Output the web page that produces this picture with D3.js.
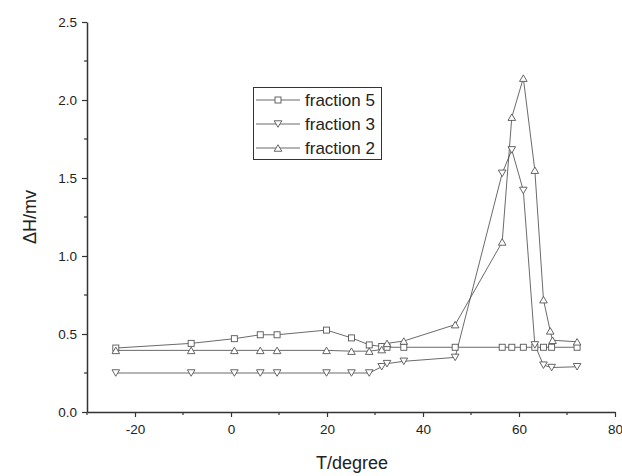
<!DOCTYPE html>
<html>
<head>
<meta charset="utf-8">
<script src="https://cdn.jsdelivr.net/npm/d3@7"></script>
<style>
  body { margin: 0; background: #fff; }
  svg text { font-family: "Liberation Sans", Arial, sans-serif; fill: #222; }
</style>
</head>
<body>
<svg id="chart" width="622" height="476"></svg>
<script>
// data
var t5 = [-24, -8.3, 0.7, 6.1, 9.6, 19.9, 25.1, 28.8, 31.4, 32.5, 36, 46.7, 56.5, 58.5, 60.9, 63.3, 65.1, 66.8, 72.1];
var v5 = [0.41, 0.44, 0.47, 0.495, 0.495, 0.525, 0.475, 0.43, 0.42, 0.415, 0.415, 0.415, 0.415, 0.415, 0.415, 0.415, 0.415, 0.415, 0.415];

var t3 = [-24, -8.3, 0.7, 6.1, 9.6, 19.9, 25.1, 28.8, 31.4, 32.5, 36, 46.7, 56.5, 58.5, 60.9, 63.3, 65.1, 66.8, 72.1];
var v3 = [0.25, 0.25, 0.25, 0.25, 0.25, 0.25, 0.25, 0.25, 0.29, 0.31, 0.325, 0.35, 1.53, 1.68, 1.42, 0.43, 0.30, 0.285, 0.29];

var t2 = [-24, -8.3, 0.7, 6.1, 9.6, 19.9, 25.1, 28.8, 31.4, 32.5, 36, 46.7, 56.5, 58.5, 60.9, 63.3, 65.1, 66.5, 67, 72.1];
var v2 = [0.395, 0.395, 0.395, 0.395, 0.395, 0.395, 0.39, 0.39, 0.40, 0.44, 0.455, 0.56, 1.09, 1.89, 2.14, 1.55, 0.72, 0.52, 0.46, 0.45];

var seriesNames = ["fraction 5", "fraction 3", "fraction 2"];
var xTicks = [-20, 0, 20, 40, 60, 80];
var yTicks = [0.0, 0.5, 1.0, 1.5, 2.0, 2.5];

var svg = d3.select("#chart");
var ink = "#333";

var x = d3.scaleLinear().domain([-30, 80]).range([87, 615]);
var y = d3.scaleLinear().domain([0, 2.5]).range([412, 22]);

// minor ticks
var xMinor = d3.range(-30, 81, 10).filter(function(d) { return xTicks.indexOf(d) < 0; });
var yMinor = d3.range(0.25, 2.5, 0.5);

svg.append("g").selectAll("line").data(xMinor).enter().append("line")
    .attr("x1", function(d) { return x(d); }).attr("x2", function(d) { return x(d); })
    .attr("y1", 412).attr("y2", 415)
    .attr("stroke", ink).attr("stroke-width", 1.2);
svg.append("g").selectAll("line").data(yMinor).enter().append("line")
    .attr("y1", function(d) { return y(d); }).attr("y2", function(d) { return y(d); })
    .attr("x1", 87).attr("x2", 84)
    .attr("stroke", ink).attr("stroke-width", 1.2);

var xAxis = svg.append("g")
    .attr("transform", "translate(0,412)")
    .call(d3.axisBottom(x).tickValues(xTicks).tickSize(5).tickSizeOuter(0).tickPadding(7)
        .tickFormat(function(d) { return String(d); }));
var yAxis = svg.append("g")
    .attr("transform", "translate(87,0)")
    .call(d3.axisLeft(y).tickValues(yTicks).tickSize(5).tickSizeOuter(0).tickPadding(5)
        .tickFormat(d3.format(".1f")));

[xAxis, yAxis].forEach(function(a) {
    a.select(".domain").attr("stroke", ink).attr("stroke-width", 1.5);
    a.selectAll(".tick line").attr("stroke", ink).attr("stroke-width", 1.2);
    a.selectAll(".tick text").attr("font-size", 13.5).attr("fill", "#222")
        .style("font-family", "Liberation Sans, Arial, sans-serif");
});

// axis titles
svg.append("text").attr("x", 352).attr("y", 469)
    .attr("text-anchor", "middle").attr("font-size", 18).text("T/degree");
svg.append("text")
    .attr("transform", "translate(36,217) rotate(-90)")
    .attr("text-anchor", "middle").attr("font-size", 18).text("\u0394H/mv");

// markers
var lineColor = "#444";
var markColor = "#555";
function drawMarker(g, kind, cx, cy) {
    if (kind == "square") {
        g.append("rect").attr("x", cx - 3).attr("y", cy - 3).attr("width", 6).attr("height", 6)
            .attr("fill", "#fff").attr("stroke", markColor).attr("stroke-width", 0.9);
    } else {
        var h = 6.5, w = 3.8;
        var pts = kind == "down"
            ? [[cx - w, cy - h / 2], [cx + w, cy - h / 2], [cx, cy + h / 2]]
            : [[cx - w, cy + h / 2], [cx + w, cy + h / 2], [cx, cy - h / 2]];
        g.append("polygon").attr("points", pts.map(function(p) { return p.join(","); }).join(" "))
            .attr("fill", "#fff").attr("stroke", markColor).attr("stroke-width", 0.9);
    }
}

var series = [
    {name: seriesNames[0], t: t5, v: v5, kind: "square"},
    {name: seriesNames[1], t: t3, v: v3, kind: "down"},
    {name: seriesNames[2], t: t2, v: v2, kind: "up"}
];

var line = d3.line().x(function(d) { return x(d[0]); }).y(function(d) { return y(d[1]); });

series.forEach(function(s) {
    var pts = s.t.map(function(t, i) { return [t, s.v[i]]; });
    svg.append("path").attr("d", line(pts))
        .attr("fill", "none").attr("stroke", lineColor).attr("stroke-width", 0.8);
});
series.forEach(function(s) {
    var g = svg.append("g");
    s.t.forEach(function(t, i) { drawMarker(g, s.kind, x(t), y(s.v[i])); });
});

// legend
var lg = svg.append("g");
lg.append("rect").attr("x", 253.5).attr("y", 87.5).attr("width", 128).attr("height", 72)
    .attr("fill", "#fff").attr("stroke", ink).attr("stroke-width", 1);
series.forEach(function(s, i) {
    var ly = 100 + i * 24;
    lg.append("line").attr("x1", 256).attr("x2", 300).attr("y1", ly).attr("y2", ly)
        .attr("stroke", lineColor).attr("stroke-width", 0.8);
    drawMarker(lg, s.kind, 278, ly);
    lg.append("text").attr("x", 305).attr("y", ly + 6).attr("font-size", 17).text(s.name);
});
</script>
</body>
</html>
